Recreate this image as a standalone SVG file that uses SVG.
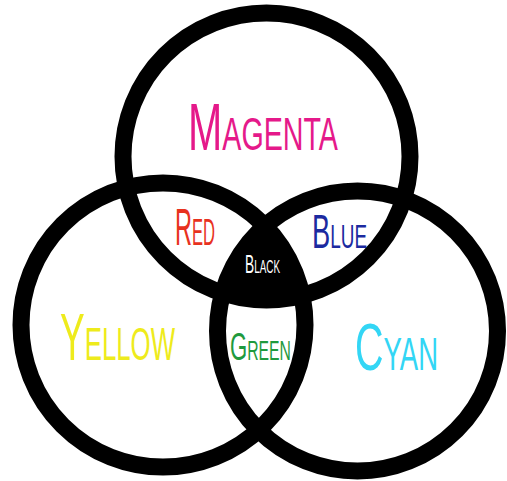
<svg xmlns="http://www.w3.org/2000/svg" width="507" height="481" viewBox="0 0 507 481">
<style>
.ring{fill:none;stroke:#000;stroke-width:17}
.lbl{font-family:"Liberation Sans Narrow","Liberation Sans",Arial,sans-serif;font-weight:normal;font-variant:small-caps}
</style>
<defs>
<clipPath id="cL"><circle cx="163" cy="325" r="142"/></clipPath>
<clipPath id="cR"><circle cx="357.5" cy="331" r="140"/></clipPath>
</defs>
<rect width="507" height="481" fill="#fff"/>
<g id="black-region" clip-path="url(#cL)"><g clip-path="url(#cR)"><circle cx="266.5" cy="156.5" r="143.5" fill="#000"/></g></g>
<g id="magenta"><circle class="ring" cx="266.5" cy="156.5" r="143.5"/>
<text class="lbl" x="188" y="150" fill="#e5198a" textLength="150" lengthAdjust="spacingAndGlyphs" font-size="66">Magenta</text></g>
<g id="yellow"><circle class="ring" cx="163" cy="325" r="142"/>
<text class="lbl" x="60" y="360" fill="#eeeb1c" textLength="115" lengthAdjust="spacingAndGlyphs" font-size="66">Yellow</text></g>
<g id="cyan"><circle class="ring" cx="357.5" cy="331" r="140"/>
<text class="lbl" x="355" y="370" fill="#33d6f5" textLength="83" lengthAdjust="spacingAndGlyphs" font-size="66">Cyan</text></g>
<g id="red"><text class="lbl" x="175" y="245" fill="#e8321e" textLength="40" lengthAdjust="spacingAndGlyphs" font-size="51">Red</text></g>
<g id="blue"><text class="lbl" x="312" y="248" fill="#1c2aa0" textLength="55" lengthAdjust="spacingAndGlyphs" font-size="49">Blue</text></g>
<g id="green"><text class="lbl" x="230" y="360" fill="#1f9a3e" textLength="61" lengthAdjust="spacingAndGlyphs" font-size="38">Green</text></g>
<g id="black"><text class="lbl" x="245" y="273" fill="#fff" textLength="35" lengthAdjust="spacingAndGlyphs" font-size="25">Black</text></g>
</svg>
